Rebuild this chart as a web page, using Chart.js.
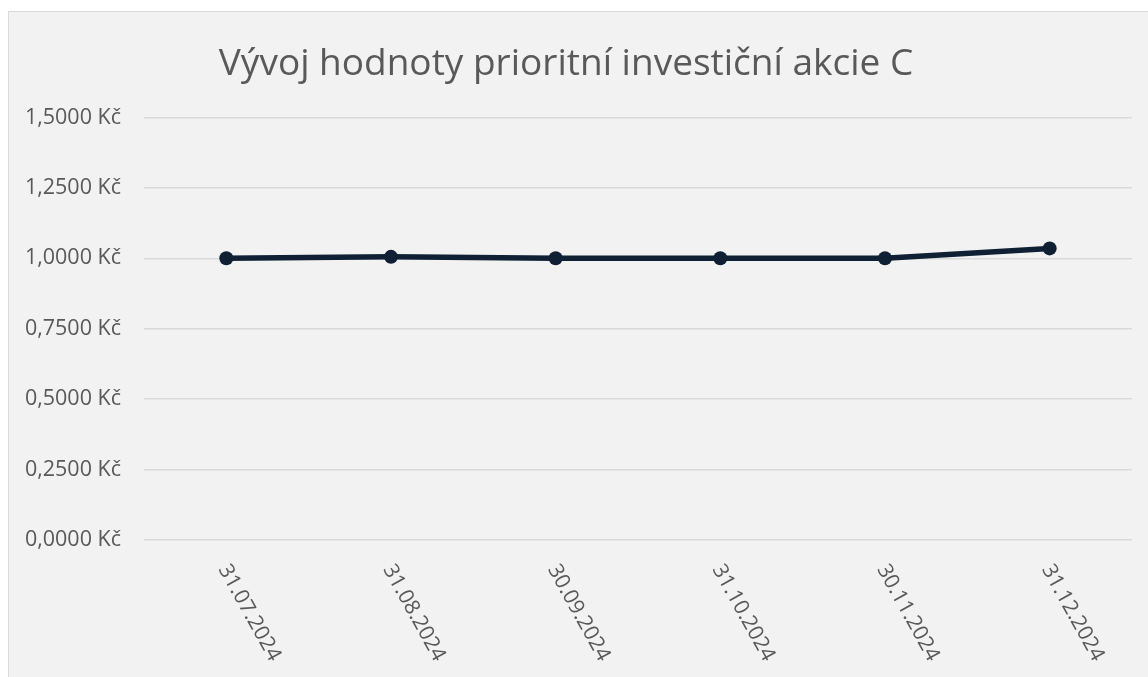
<!DOCTYPE html>
<html lang="cs">
<head>
<meta charset="utf-8">
<title>Vývoj hodnoty prioritní investiční akcie C</title>
<script src="https://cdn.jsdelivr.net/npm/chart.js@4/dist/chart.umd.min.js"></script>
<style>
  html, body { margin: 0; padding: 0; background: #ffffff; overflow: hidden; }
  #frame {
    position: absolute; left: 8px; top: 11px;
    width: 1160px; height: 700px;
    background: #f2f2f2; border: 1.5px solid #d9d9d9;
  }
  #chart { position: absolute; left: 0; top: 0; }
</style>
</head>
<body>
<div id="frame"></div>
<canvas id="chart" width="1148" height="677"></canvas>
<script>
// data
const dates = ["31.07.2024", "31.08.2024", "30.09.2024", "31.10.2024", "30.11.2024", "31.12.2024"];
const values = [1.0, 1.005, 1.0, 1.0, 1.0, 1.035];
const yTicks = [0, 0.25, 0.5, 0.75, 1.0, 1.25, 1.5];

const textColor = "#595959";
const lineColor = "#0f2035";
const fontFamily = "'Open Sans', 'DejaVu Sans', sans-serif";

function formatKc(v) {
  return v.toFixed(4).replace(".", ",") + " Kč";
}

// Excel-style date labels, rotated clockwise and starting at the tick
const slantedLabels = {
  id: "slantedLabels",
  afterDraw(chart) {
    const ctx = chart.ctx;
    const xScale = chart.scales.x;
    const bottom = chart.chartArea.bottom;
    ctx.save();
    ctx.fillStyle = textColor;
    ctx.font = "21px " + fontFamily;
    ctx.textAlign = "left";
    ctx.textBaseline = "middle";
    xScale.getLabels().forEach((label, i) => {
      const x = xScale.getPixelForValue(i);
      ctx.save();
      ctx.translate(x - 3, bottom + 26);
      ctx.rotate(61 * Math.PI / 180);
      ctx.fillText(label, 0, 0);
      ctx.restore();
    });
    ctx.restore();
  }
};

new Chart(document.getElementById("chart"), {
  type: "line",
  data: {
    labels: dates,
    datasets: [{
      label: "Hodnota akcie C",
      data: values,
      borderColor: lineColor,
      backgroundColor: lineColor,
      borderWidth: 5.5,
      pointRadius: 7,
      pointBorderWidth: 0,
      pointBackgroundColor: lineColor,
      tension: 0
    }]
  },
  options: {
    responsive: false,
    animation: false,
    layout: { padding: { left: 0, right: 16, top: 0, bottom: 0 } },
    plugins: {
      legend: { display: false },
      tooltip: { enabled: false },
      title: {
        display: true,
        text: "Vývoj hodnoty prioritní investiční akcie C",
        color: textColor,
        font: { family: fontFamily, size: 37, weight: "normal", lineHeight: 1.2 },
        padding: { top: 42, bottom: 31 }
      }
    },
    scales: {
      x: {
        offset: true,
        grid: { display: false },
        border: { display: false },
        ticks: { display: false },
        afterFit(scale) { scale.height = 137; }
      },
      y: {
        min: 0,
        max: 1.5,
        afterBuildTicks(scale) {
          scale.ticks = yTicks.map(v => ({ value: v }));
        },
        grid: { color: "#d9d9d9", lineWidth: 1.5, drawTicks: false },
        border: { display: false },
        ticks: {
          padding: 23,
          color: textColor,
          font: { family: fontFamily, size: 21.5 },
          callback: v => formatKc(v)
        },
        afterFit(scale) { scale.width = 144; }
      }
    }
  },
  plugins: [slantedLabels]
});
</script>
</body>
</html>
